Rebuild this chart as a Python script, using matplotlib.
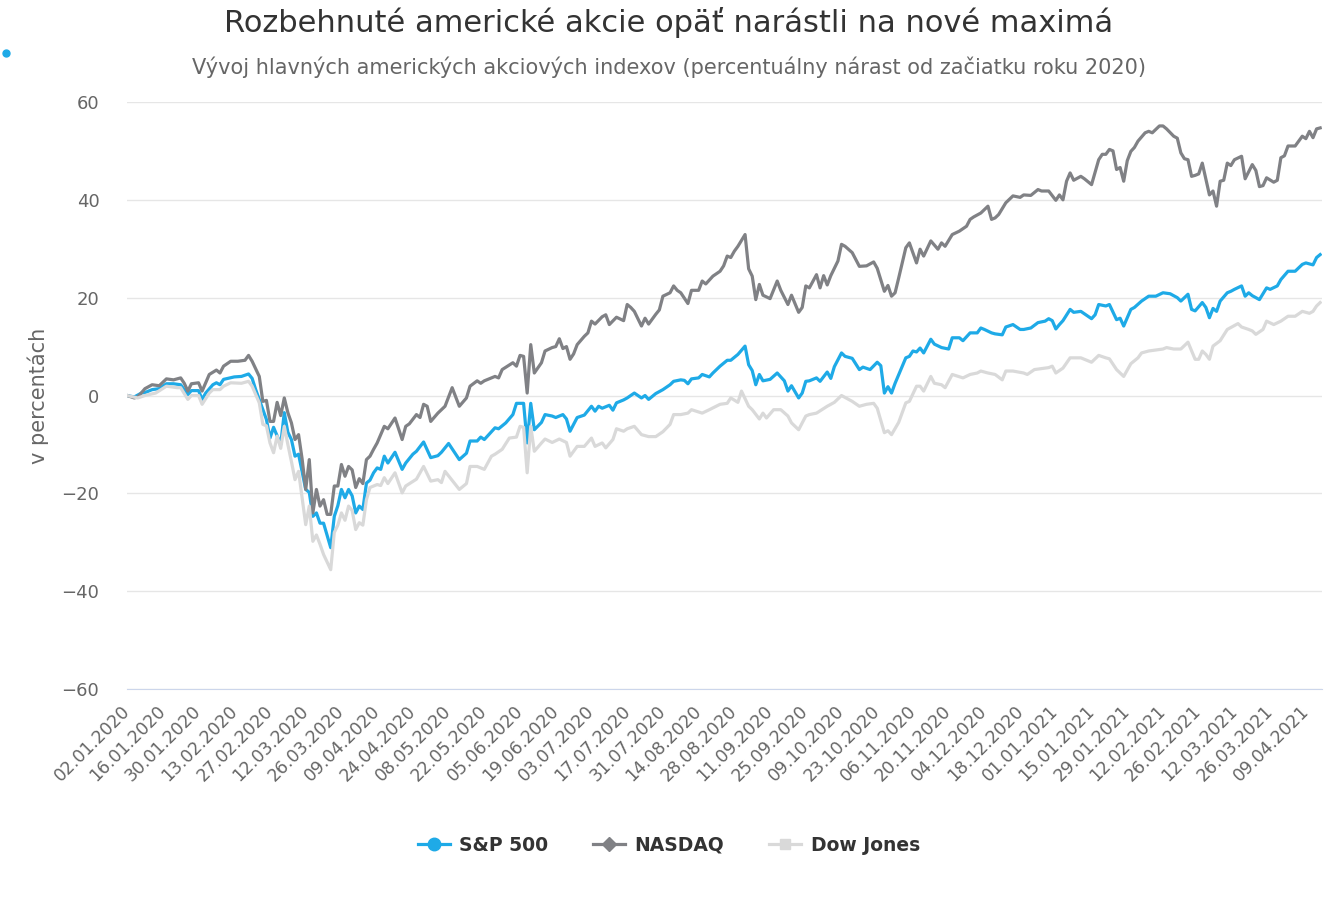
import matplotlib
matplotlib.use("Agg")
import matplotlib.pyplot as plt
from matplotlib.lines import Line2D

# trading-day index (0 = 02.01.2020) and % change since start of 2020
sp_day = [0, 2, 4, 5, 7, 9, 11, 13, 15, 17, 18, 20, 21, 22, 24, 25, 26, 27, 30, 32, 34, 35, 36, 38, 39,
          40, 41, 43, 44, 45, 46, 47, 48, 50, 51, 52, 53, 54, 55, 57, 58, 59, 60, 61, 62, 63, 64, 65, 66,
          67, 68, 69, 70, 71, 72, 73, 75, 77, 78, 80, 81, 83, 85, 87, 88, 90, 93, 95, 96, 98, 99, 100,
          103, 104, 106, 108, 109, 111, 112, 113, 114, 116, 117, 119, 120, 122, 123, 124, 126, 128, 130,
          131, 132, 133, 135, 136, 137, 139, 140, 142, 144, 145, 146, 148, 150, 152, 153, 155, 156, 157,
          158, 160, 161, 163, 164, 166, 168, 169, 171, 173, 174, 175, 176, 177, 178, 180, 182, 184, 185,
          186, 188, 189, 190, 191, 193, 194, 196, 197, 198, 200, 201, 203, 205, 206, 208, 210, 211, 212,
          213, 214, 215, 218, 219, 220, 221, 222, 223, 225, 226, 228, 230, 231, 233, 234, 236, 238, 239,
          240, 242, 243, 245, 246, 248, 250, 251, 253, 255, 257, 258, 259, 260, 261, 262, 264, 265, 267,
          269, 270, 271, 272, 274, 275, 277, 278, 279, 281, 282, 284, 286, 288, 290, 292, 294, 295, 297,
          298, 299, 301, 302, 303, 304, 305, 306, 308, 309, 310, 312, 313, 314, 315, 317, 319, 320, 322,
          323, 325, 327, 328, 329, 330, 332, 333, 334]
sp_pct = [0, -0.3, 0.5, 0.6, 1.2, 1.4, 2.4, 2.4, 2.2, 0.2, 1.0, 1.0, -0.8, 0.5, 2.2, 2.6, 2.2, 3.3, 3.8,
          3.9, 4.4, 3.5, 1.2, -2.9, -4.9, -8.7, -6.5, -10, -3.5, -7.5, -9, -12.4, -12.0, -19.2, -19.8,
          -24.7, -24.0, -26.1, -26.1, -31.1, -24.7, -22.5, -19.2, -20.9, -19.2, -20.5, -24, -22.6, -23.3,
          -17.9, -17.3, -15.8, -14.8, -15.1, -12.4, -13.8, -11.6, -15.1, -13.8, -12.0, -11.4, -9.5,
          -12.7, -12.3, -11.6, -9.8, -13.1, -11.8, -9.3, -9.3, -8.5, -9, -6.6, -6.8, -5.6, -3.9, -1.6,
          -1.6, -9.7, -1.6, -7, -5.5, -3.9, -4.2, -4.5, -3.9, -4.8, -7.3, -4.5, -4.0, -2.2, -3.2, -2.2,
          -2.6, -2.0, -3.0, -1.5, -0.9, -0.5, 0.5, -0.5, 0.0, -0.8, 0.4, 1.2, 2.2, 2.9, 3.2, 3.1, 2.4,
          3.4, 3.6, 4.3, 3.8, 4.6, 6.0, 7.2, 7.2, 8.4, 10.1, 6.3, 5.1, 2.2, 4.3, 3.0, 3.3, 4.6, 3.0, 0.9,
          2.0, -0.5, 0.5, 2.9, 3.0, 3.6, 2.9, 4.8, 3.5, 5.9, 8.7, 8.0, 7.6, 5.3, 5.8, 5.3, 6.8, 6.1, 0.5,
          1.8, 0.5, 2.5, 7.7, 8.0, 9.1, 8.9, 9.7, 8.7, 11.5, 10.5, 9.8, 9.5, 11.8, 11.8, 11.2, 12.8,
          12.8, 13.8, 13.5, 12.8, 12.6, 12.4, 14.0, 14.5, 13.5, 13.5, 13.8, 14.9, 15.2, 15.7, 15.3, 13.6,
          14.5, 15.3, 17.6, 17.0, 17.2, 16.2, 15.7, 16.5, 18.6, 18.3, 18.6, 15.5, 15.8, 14.2, 17.6, 18.0,
          19.3, 20.3, 20.3, 21.0, 20.8, 20.0, 19.3, 20.7, 17.6, 17.3, 19.0, 18.0, 15.9, 17.8, 17.2, 19.3,
          21.0, 21.3, 21.7, 22.4, 20.3, 21.0, 20.4, 19.6, 22.0, 21.7, 22.4, 23.7, 25.4, 25.4, 26.1, 26.8,
          27.1, 26.7, 28.2, 28.8]

nasdaq_day = [0, 2, 3, 5, 7, 9, 11, 13, 15, 16, 17, 18, 20, 21, 23, 25, 26, 27, 29, 31, 33, 34, 35, 37,
              38, 39, 40, 41, 42, 43, 44, 45, 46, 47, 48, 49, 50, 51, 52, 53, 54, 55, 56, 57, 58, 59, 60,
              61, 62, 63, 64, 65, 66, 67, 68, 69, 70, 72, 73, 75, 77, 78, 79, 81, 82, 83, 84, 85, 87, 89,
              91, 93, 95, 96, 98, 99, 100, 103, 104, 105, 108, 109, 110, 111, 112, 113, 114, 116, 117,
              119, 120, 121, 122, 123, 124, 125, 126, 128, 129, 130, 131, 133, 134, 135, 137, 139, 140,
              141, 142, 144, 145, 146, 148, 149, 150, 152, 153, 154, 155, 157, 158, 160, 161, 162, 164,
              166, 167, 168, 169, 170, 171, 173, 174, 175, 176, 177, 178, 180, 182, 183, 185, 186, 188,
              189, 190, 191, 193, 194, 195, 196, 197, 199, 200, 201, 203, 205, 207, 209, 210, 212, 213,
              214, 215, 216, 218, 219, 221, 222, 223, 225, 227, 228, 229, 231, 233, 235, 236, 237, 239,
              241, 242, 243, 244, 246, 248, 250, 251, 253, 255, 256, 258, 260, 261, 262, 263, 264, 265,
              267, 268, 270, 272, 273, 274, 275, 276, 277, 278, 279, 280, 281, 282, 283, 285, 286, 287,
              289, 290, 291, 293, 294, 295, 296, 297, 298, 299, 300, 301, 303, 304, 305, 306, 307, 308,
              309, 310, 312, 313, 315, 316, 317, 318, 319, 321, 322, 323, 324, 325, 327, 329, 330, 331,
              332, 333, 334]
nasdaq_pct = [0, -0.5, -0.3, 1.4, 2.2, 2.0, 3.4, 3.2, 3.6, 2.5, 0.9, 2.4, 2.6, 0.9, 4.3, 5.2, 4.6, 6.0,
              7.0, 7.0, 7.2, 8.2, 7.0, 3.9, -1.2, -1.0, -5.3, -5.3, -1.4, -4.1, -0.5, -3.5, -5.6, -9, -8,
              -13, -19.2, -13.1, -24, -19.2, -22.6, -21.3, -24.3, -24.3, -18.5, -18.5, -14.1, -16.5,
              -14.5, -15.2, -18.8, -17, -18, -13.1, -12.4, -11, -9.7, -6.3, -6.8, -4.6, -9, -6.3, -5.8,
              -3.9, -4.5, -1.8, -2.2, -5.3, -3.6, -2.2, 1.6, -2.2, -0.5, 1.9, 3.0, 2.5, 3.0, 3.9, 3.6, 5.3,
              6.7, 6.0, 8.2, 8.0, 0.5, 10.4, 4.6, 6.7, 9.1, 9.8, 10.0, 11.6, 9.6, 10.0, 7.4, 8.5, 10.4,
              12.1, 12.8, 15.2, 14.6, 16.1, 16.5, 14.5, 16.0, 15.3, 18.6, 18.0, 17.2, 14.2, 15.8, 14.6,
              16.6, 17.5, 20.3, 21, 22.4, 21.5, 21.0, 18.8, 21.5, 21.5, 23.4, 22.8, 24.4, 25.4, 26.5,
              28.5, 28.2, 29.5, 30.5, 32.9, 25.9, 24.4, 19.6, 22.7, 20.5, 19.8, 23.4, 21.5, 18.6, 20.5,
              17, 18, 22.4, 22.0, 24.7, 22.0, 24.5, 22.6, 24.5, 27.5, 30.9, 30.5, 29.2, 26.4, 26.5, 27.3,
              26.0, 21.3, 22.5, 20.3, 21.0, 24.0, 30.2, 31.2, 27.1, 29.9, 28.5, 31.6, 29.9, 31.2, 30.5,
              32.9, 33.6, 34.6, 36, 36.5, 37.3, 38.7, 36, 36.3, 37.0, 39.4, 40.8, 40.5, 41.0, 40.9, 42.1,
              41.8, 41.8, 39.9, 41.0, 40.0, 43.8, 45.5, 44.0, 44.8, 44.3, 43.1, 48.2, 49.3, 49.3, 50.3,
              50.0, 46.2, 46.6, 43.8, 48.0, 49.9, 50.7, 52, 53.7, 54.0, 53.7, 55.1, 55.1, 54.5, 53, 52.6,
              49.6, 48.4, 48.2, 44.8, 45.0, 45.3, 47.5, 41.0, 41.8, 38.7, 43.8, 44.0, 47.5, 47, 48.2, 48.9,
              44.3, 47.2, 46.0, 42.7, 42.9, 44.5, 43.6, 44.0, 48.6, 49.0, 51, 51, 53, 52.5, 54, 52.7, 54.5,
              54.7]

dow_day = [0, 3, 5, 8, 11, 14, 15, 17, 18, 20, 21, 23, 24, 26, 27, 29, 32, 34, 35, 37, 38, 39, 40, 41,
           42, 43, 44, 45, 46, 47, 48, 49, 50, 51, 52, 53, 54, 55, 57, 58, 59, 60, 61, 62, 63, 64, 65, 66,
           67, 68, 70, 71, 72, 73, 75, 77, 78, 81, 83, 85, 87, 88, 89, 93, 95, 96, 98, 100, 102, 103, 105,
           107, 109, 110, 111, 112, 113, 114, 116, 117, 119, 121, 123, 124, 126, 128, 130, 131, 133, 134,
           136, 137, 139, 140, 142, 144, 146, 148, 150, 152, 153, 155, 157, 158, 161, 163, 166, 168, 169,
           171, 172, 174, 175, 177, 178, 179, 181, 183, 185, 186, 188, 190, 191, 193, 196, 198, 200, 203,
           205, 207, 209, 210, 212, 213, 214, 216, 218, 219, 221, 222, 223, 225, 226, 228, 229, 231, 234,
           236, 238, 239, 241, 243, 245, 246, 248, 251, 252, 254, 256, 258, 259, 260, 262, 264, 266, 267,
           270, 272, 274, 275, 277, 279, 281, 283, 284, 286, 288, 290, 291, 293, 295, 297, 299, 300, 301,
           302, 303, 304, 306, 308, 310, 311, 312, 314, 315, 316, 318, 319, 321, 323, 325, 327, 329, 331,
           332, 333, 334]
dow_pct = [0, -0.5, 0.0, 0.5, 1.9, 1.6, 1.6, -0.8, 0.0, 0.0, -1.8, 0.5, 1.2, 1.2, 1.9, 2.6, 2.5, 2.9,
           1.9, -1.5, -5.9, -6.2, -9.7, -11.7, -8.3, -10.8, -6.3, -10.0, -13.5, -17.2, -15.5, -21, -26.4,
           -22.6, -29.8, -28.5, -30.4, -32.5, -35.6, -28, -26.5, -24, -25.5, -22.6, -23.5, -27.4, -26.0,
           -26.5, -21.3, -18.8, -18.2, -18.4, -16.8, -18.0, -15.8, -19.9, -18.5, -17.1, -14.5, -17.5,
           -17.2, -17.8, -15.5, -19.2, -18.0, -14.5, -14.5, -15.1, -12.4, -12.0, -11, -8.7, -8.5, -6.3,
           -6.5, -15.8, -6.3, -11.4, -9.7, -8.9, -9.6, -8.9, -9.6, -12.4, -10.4, -10.4, -8.7, -10.4, -9.7,
           -10.7, -9.0, -6.8, -7.3, -6.8, -6.3, -8.0, -8.4, -8.4, -7.4, -5.9, -3.9, -3.9, -3.6, -2.9,
           -3.6, -2.9, -1.8, -1.6, -0.5, -1.4, 0.9, -2.2, -2.9, -4.8, -3.6, -4.6, -2.9, -2.9, -4.2, -5.6,
           -7.0, -4.2, -3.9, -3.6, -2.2, -1.4, 0.0, -1.2, -2.2, -1.8, -1.6, -2.6, -7.6, -7.2, -8.0, -5.5,
           -1.5, -1.2, 1.9, 1.9, 0.9, 3.9, 2.5, 2.2, 1.6, 4.3, 3.6, 4.3, 4.6, 5.0, 4.6, 4.3, 3.2, 5.0,
           5.0, 4.6, 4.3, 5.3, 5.5, 5.7, 6.0, 4.6, 5.6, 7.7, 7.7, 7.7, 6.8, 8.2, 7.7, 7.5, 5.3, 3.9, 6.5,
           7.7, 8.7, 9.1, 9.3, 9.5, 9.8, 9.5, 9.5, 10.9, 7.4, 7.4, 9.1, 8.4, 7.4, 10.1, 11.2, 13.5, 14.3,
           14.7, 14.0, 13.5, 13.2, 12.5, 13.5, 15.2, 14.5, 15.2, 16.2, 16.2, 17.2, 16.8, 17.2, 18.3, 19.0]

tick_labels = ["02.01.2020", "16.01.2020", "30.01.2020", "13.02.2020", "27.02.2020", "12.03.2020",
               "26.03.2020", "09.04.2020", "24.04.2020", "08.05.2020", "22.05.2020", "05.06.2020",
               "19.06.2020", "03.07.2020", "17.07.2020", "31.07.2020", "14.08.2020", "28.08.2020",
               "11.09.2020", "25.09.2020", "09.10.2020", "23.10.2020", "06.11.2020", "20.11.2020",
               "04.12.2020", "18.12.2020", "01.01.2021", "15.01.2021", "29.01.2021", "12.02.2021",
               "26.02.2021", "12.03.2021", "26.03.2021", "09.04.2021"]

series_names = ["S&P 500", "NASDAQ", "Dow Jones"]
colors = ["#1eaae7", "#808185", "#d9d9d9"]
markers = ["o", "D", "s"]

fig = plt.figure(figsize=(13.38, 9), dpi=100)
ax = fig.add_axes([0.095, 0.2344, 0.893, 0.6523])

lines = []
for day, pct, c in zip([sp_day, nasdaq_day, dow_day], [sp_pct, nasdaq_pct, dow_pct], colors):
    ln, = ax.plot(day, pct, color=c, lw=2.3, solid_joinstyle="round")
    lines.append(ln)
# highcharts draws later series on top
for z, ln in enumerate(lines):
    ln.set_zorder(3 + z)

ax.set_xlim(0, 334.5)
ax.set_ylim(-60, 60)
ax.set_yticks(range(-60, 61, 20))
ax.set_xticks(range(0, 10 * len(tick_labels), 10))
ax.set_xticklabels(tick_labels, rotation=45, ha="right", va="center", rotation_mode="anchor")

ax.grid(axis="y", color="#e6e6e6", lw=1)
ax.set_axisbelow(True)
for s in ["top", "right", "left"]:
    ax.spines[s].set_visible(False)
ax.spines["bottom"].set_color("#ccd6eb")
ax.spines["bottom"].set_zorder(1)
ax.tick_params(axis="y", length=0, pad=20, labelsize=13, labelcolor="#666666")
ax.tick_params(axis="x", length=0, pad=14, labelsize=12.5, labelcolor="#666666")
ax.set_ylabel("v percentách", fontsize=15, color="#666666", labelpad=9)

fig.text(0.5, 0.975, "Rozbehnuté americké akcie opäť narástli na nové maximá",
         ha="center", va="center", fontsize=22, color="#333333")
fig.text(0.5, 0.925, "Vývoj hlavných amerických akciových indexov (percentuálny nárast od začiatku roku 2020)",
         ha="center", va="center", fontsize=15, color="#666666")

# small blue dot in the top-left corner of the original image
fig.add_artist(Line2D([0.0045], [0.941], marker="o", color=colors[0], markersize=5,
                      transform=fig.transFigure))

handles = [Line2D([], [], color=c, lw=2.3, marker=m, markersize=9 if m == "o" else 7)
           for c, m in zip(colors, markers)]
leg = fig.legend(handles, series_names, loc="center", bbox_to_anchor=(0.5, 0.061), ncol=3,
                 frameon=False, handlelength=1.7, columnspacing=2.4, handletextpad=0.5,
                 prop={"size": 13.5, "weight": "bold"})
for t in leg.get_texts():
    t.set_color("#333333")

fig.savefig("out.png", dpi=100)
